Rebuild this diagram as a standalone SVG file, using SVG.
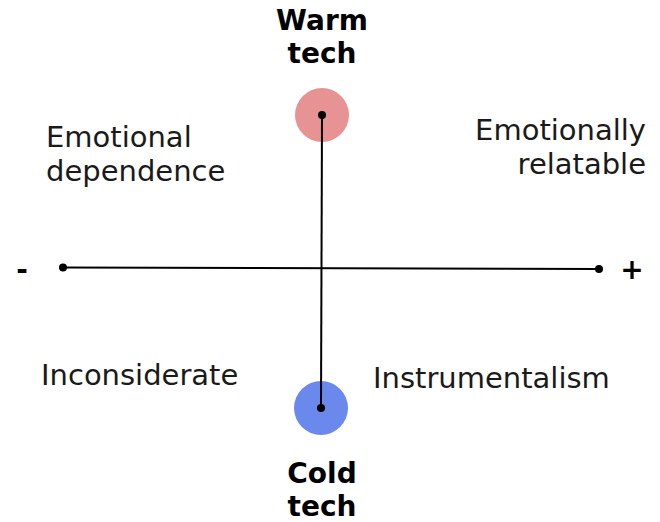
<svg xmlns="http://www.w3.org/2000/svg" width="660" height="522" viewBox="0 0 660 522">
<style>
.lbl{font-family:"DejaVu Sans","Liberation Sans",sans-serif;font-size:29px;fill:#1a1a1a}
.ttl{font-family:"DejaVu Sans","Liberation Sans",sans-serif;font-size:28px;font-weight:bold;fill:#000;text-anchor:middle}
.ax{stroke:#000;stroke-width:2;fill:none}
.dot{fill:#000}
</style>
<rect width="660" height="522" fill="#fff"/>
<g id="warm">
<circle cx="322" cy="115" r="27" fill="#E89393"/>
<text class="ttl" x="322" y="30">Warm</text>
<text class="ttl" x="322" y="63">tech</text>
</g>
<g id="cold">
<circle cx="321" cy="408" r="27" fill="#6B88EC"/>
<text class="ttl" x="322" y="483">Cold</text>
<text class="ttl" x="322" y="516">tech</text>
</g>
<g id="connectors">
<line class="ax" x1="322" y1="115" x2="321" y2="408"/>
<line class="ax" x1="63" y1="267.5" x2="599" y2="269"/>
<circle class="dot" cx="322" cy="115" r="4"/>
<circle class="dot" cx="321" cy="408" r="4"/>
<circle class="dot" cx="63" cy="267.5" r="4"/>
<circle class="dot" cx="599" cy="269" r="4"/>
</g>
<g id="minus"><text class="ttl" x="22" y="279">-</text></g>
<g id="plus"><text class="ttl" x="632" y="279">+</text></g>
<g id="emotional-dependence">
<text class="lbl" x="46" y="147">Emotional</text>
<text class="lbl" x="46" y="181">dependence</text>
</g>
<g id="emotionally-relatable">
<text class="lbl" x="646" y="140" text-anchor="end">Emotionally</text>
<text class="lbl" x="646" y="174" text-anchor="end">relatable</text>
</g>
<g id="inconsiderate"><text class="lbl" x="41" y="385">Inconsiderate</text></g>
<g id="instrumentalism"><text class="lbl" x="373" y="388">Instrumentalism</text></g>
</svg>
